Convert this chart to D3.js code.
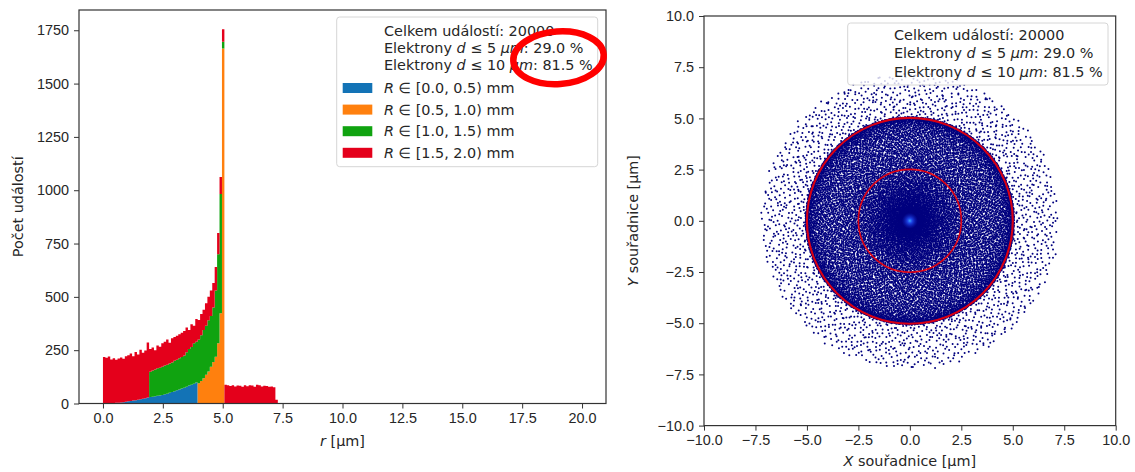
<!DOCTYPE html>
<html>
<head>
<meta charset="utf-8">
<script src="https://cdn.jsdelivr.net/npm/d3@7"></script>
<style>
  body { margin: 0; background: #fff; }
  svg { display: block; font-family: "DejaVu Sans", sans-serif; }
  .tick text { font-size: 14.4px; fill: #262626; }
  .tick line { stroke: #333; stroke-width: 1; }
</style>
</head>
<body>
<svg id="chart" width="1135" height="472"></svg>
<script>
// ---- Data -------------------------------------------------------------
const totalEvents = 20000;
const shareWithin5 = "29.0";
const shareWithin10 = "81.5";

// Source radius bands (mm) stacked in the histogram
const radiusBands = ["[0.0, 0.5)", "[0.5, 1.0)", "[1.0, 1.5)", "[1.5, 2.0)"];
const bandColors = ["#1373b6", "#ff800e", "#10a310", "#e4001b"];

// Radial histogram binning (µm)
const rBinRange = [0, 7.3];
const rBinCount = 72;

// Event counts per radial bin, one array per source band
const countsBand0 = [0,0,0,0,0, 3,4,5,6,8, 10,12,14,15,18, 20,22,25,28,30,
  32,34,36,38,40, 43,46,50,54,58, 62,66,70,74,78, 84,88,93,98,
  0,0,0,0,0,0,0,0,0,0,0, 0,0,0,0,0,0,0,0,0,0,0, 0,0,0,0,0,0,0,0,0,0,0];
const countsBand1 = [0,0,0,0,0,0,0,0,0,0, 0,0,0,0,0,0,0,0,0,0, 0,0,0,0,0,0,0,0,0,0,
  0,0,0,0,0,0,0,0,0,
  95,105,118,135,150,172,195,219,282,423,1665,
  0,0,0,0,0,0,0,0,0,0,0, 0,0,0,0,0,0,0,0,0,0,0];
const countsBand2 = [0,0,0,0,0,0,0,0,0,0, 0,0,0,0,0,0,0,0,0,
  119,123,126,129,130,132,135,136,138,138,142,143,146,148,151,162,171,177,189,192,
  205,215,227,230,240,238,255,311,418,559,31,
  0,0,0,0,0,0,0,0,0,0,0, 0,0,0,0,0,0,0,0,0,0,0];
const countsBand3 = [218,214,220,206,212,202,207,211,204,214,216,222,208,227,212,232,216,223,258,
  106,107,90,107,98,110,112,118,97,114,112,113,113,114,115,116,90,107,83,106,
  92,100,95,105,110,120,115,110,100,80,59,
  88,85,82,86,80,84,83,78,85,81,86,84,79,88,85,80,83,82,78,80,76,18];

// Tick values
const histXTicks = [0, 2.5, 5, 7.5, 10, 12.5, 15, 17.5, 20];
const histYTicks = [0, 250, 500, 750, 1000, 1250, 1500, 1750];
const mapTicks = [-10, -7.5, -5, -2.5, 0, 2.5, 5, 7.5, 10];

// Reference circles on the XY map (µm)
const guideRadii = [2.5, 5];

// ---- Setup ------------------------------------------------------------
const svg = d3.select("#chart");
const textColor = "#262626";
const fontSize = 14.4;

const binEdges = d3.range(rBinCount + 1).map(i =>
  rBinRange[0] + i * (rBinRange[1] - rBinRange[0]) / rBinCount);
const bins = d3.range(rBinCount).map(i => ({
  x0: binEdges[i], x1: binEdges[i + 1],
  b0: countsBand0[i], b1: countsBand1[i], b2: countsBand2[i], b3: countsBand3[i]
}));
const keys = ["b0", "b1", "b2", "b3"];
const stacked = d3.stack().keys(keys)(bins);

// ---- Left panel: stacked radial histogram ------------------------------
const L = { left: 79, right: 606, top: 10, bottom: 403.5 };
const xH = d3.scaleLinear().domain([-1, 21]).range([L.left, L.right]);
const yH = d3.scaleLinear().domain([0, 1845]).range([L.bottom, L.top]);

const gH = svg.append("g");
// each band is one filled step outline, so adjacent bins join without seams
const stepArea = d3.area()
  .curve(d3.curveStepAfter)
  .x(d => xH(d.x))
  .y0(d => yH(d.lo))
  .y1(d => yH(d.hi));
stacked.forEach((layer, li) => {
  const pts = layer.map(d => ({ x: d.data.x0, lo: d[0], hi: d[1] }));
  const last = layer[layer.length - 1];
  pts.push({ x: last.data.x1, lo: last[0], hi: last[1] });
  gH.append("path").datum(pts)
    .attr("fill", bandColors[li])
    .attr("d", stepArea);
});

gH.append("rect").attr("x", L.left).attr("y", L.top)
  .attr("width", L.right - L.left).attr("height", L.bottom - L.top)
  .attr("fill", "none").attr("stroke", "#333").attr("stroke-width", 1.2);

gH.append("g").attr("transform", `translate(0,${L.bottom})`)
  .call(d3.axisBottom(xH).tickValues(histXTicks).tickFormat(d3.format(".1f"))
    .tickSize(5).tickPadding(4))
  .call(g => g.select(".domain").remove());
gH.append("g").attr("transform", `translate(${L.left},0)`)
  .call(d3.axisLeft(yH).tickValues(histYTicks).tickFormat(d3.format("d"))
    .tickSize(5).tickPadding(5))
  .call(g => g.select(".domain").remove());

// axis titles
const xTitleL = gH.append("text").attr("x", (L.left + L.right) / 2).attr("y", 446)
  .attr("text-anchor", "middle").attr("font-size", fontSize).attr("fill", textColor);
xTitleL.append("tspan").attr("font-style", "italic").text("r");
xTitleL.append("tspan").text(" [µm]");
gH.append("text").attr("transform", `translate(23,${(L.top + L.bottom) / 2}) rotate(-90)`)
  .attr("text-anchor", "middle").attr("font-size", fontSize).attr("fill", textColor)
  .text("Počet událostí");

// legend text lines shared by both panels
function statLine(sel, x, y, limit, share) {
  const t = sel.append("text").attr("x", x).attr("y", y)
    .attr("font-size", fontSize).attr("fill", textColor);
  t.append("tspan").text("Elektrony ");
  t.append("tspan").attr("font-style", "italic").text("d");
  t.append("tspan").text(` ≤ ${limit} `);
  t.append("tspan").attr("font-style", "italic").text("µm");
  t.append("tspan").text(`: ${share} %`);
}
function countLine(sel, x, y) {
  sel.append("text").attr("x", x).attr("y", y)
    .attr("font-size", fontSize).attr("fill", textColor)
    .text(`Celkem událostí: ${totalEvents}`);
}

const legL = gH.append("g");
legL.append("rect").attr("x", 336.7).attr("y", 17).attr("width", 261).attr("height", 149.7)
  .attr("rx", 3).attr("fill", "#fff").attr("fill-opacity", 0.8)
  .attr("stroke", "#d6d6d6").attr("stroke-width", 1);
countLine(legL, 384, 36.2);
statLine(legL, 384, 53.2, 5, shareWithin5);
statLine(legL, 384, 70.2, 10, shareWithin10);
const rowY = [88, 109.6, 131.2, 152.8];
radiusBands.forEach((band, i) => {
  legL.append("rect").attr("x", 342.7).attr("y", rowY[i] - 5).attr("width", 29.6).attr("height", 10)
    .attr("fill", bandColors[i]);
  const t = legL.append("text").attr("x", 384).attr("y", rowY[i] + 5.2)
    .attr("font-size", fontSize).attr("fill", textColor);
  t.append("tspan").attr("font-style", "italic").text("R");
  t.append("tspan").text(` ∈ ${band} mm`);
});

// highlight ring around the percentages
gH.append("ellipse").attr("cx", 558.5).attr("cy", 57.8).attr("rx", 45.3).attr("ry", 26.3)
  .attr("transform", "rotate(-4 558.5 57.8)")
  .attr("fill", "none").attr("stroke", "#ff0000").attr("stroke-width", 6.5);

// ---- Right panel: XY map of the events --------------------------------
const R = { left: 704, right: 1115.7, top: 16, bottom: 425.6 };
const xM = d3.scaleLinear().domain([-10, 10]).range([R.left, R.right]);
const yM = d3.scaleLinear().domain([-10, 10]).range([R.bottom, R.top]);

// Events are laid out from the radial histogram: a leaped Halton pair
// (u, v) picks the radius through the histogram's cumulative counts and
// the azimuth, which the histogram does not record, from v.
function radicalInverse(n, base) {
  let f = 1, r = 0;
  while (n > 0) { f /= base; r += f * (n % base); n = Math.floor(n / base); }
  return r;
}
const haltonLeap = 409;
const binTotals = bins.map(b => b.b0 + b.b1 + b.b2 + b.b3);
const cumCounts = d3.cumsum(binTotals);
const nEvents = cumCounts[cumCounts.length - 1];
const events = d3.range(1, nEvents + 1).map(k => {
  const idx = k * haltonLeap;
  const u = radicalInverse(idx, 2) * nEvents;
  const i = Math.min(d3.bisectRight(cumCounts, u), rBinCount - 1);
  const before = i > 0 ? cumCounts[i - 1] : 0;
  const frac = Math.min(1, (u - before) / binTotals[i]);
  const rr = bins[i].x0 + (bins[i].x1 - bins[i].x0) * frac;
  const th = 2 * Math.PI * radicalInverse(idx, 3);
  return [rr * Math.cos(th), rr * Math.sin(th)];
});

const gM = svg.append("g");
gM.append("g").attr("fill", "#00007f")
  .selectAll("circle").data(events).join("circle")
  .attr("cx", d => xM(d[0])).attr("cy", d => yM(d[1])).attr("r", 1.0);

const defs = svg.append("defs");
const glow = defs.append("radialGradient").attr("id", "coreGlow");
glow.append("stop").attr("offset", "0%").attr("stop-color", "#39a0ff").attr("stop-opacity", 1);
glow.append("stop").attr("offset", "30%").attr("stop-color", "#1f4cf0").attr("stop-opacity", 0.9);
glow.append("stop").attr("offset", "100%").attr("stop-color", "#1020c0").attr("stop-opacity", 0);
gM.append("circle").attr("cx", xM(0)).attr("cy", yM(0)).attr("r", 8).attr("fill", "url(#coreGlow)");

gM.append("g").selectAll("circle").data(guideRadii).join("circle")
  .attr("cx", xM(0)).attr("cy", yM(0))
  .attr("r", d => xM(d) - xM(0))
  .attr("fill", "none").attr("stroke", "#ff0000").attr("stroke-opacity", 0.85)
  .attr("stroke-width", d => d === 5 ? 2.1 : 1.6);

const legR = gM.append("g");
legR.append("rect").attr("x", 847.7).attr("y", 23).attr("width", 260.3).attr("height", 62)
  .attr("rx", 3).attr("fill", "#fff").attr("fill-opacity", 0.8)
  .attr("stroke", "#d6d6d6").attr("stroke-width", 1);
countLine(legR, 894, 40.2);
statLine(legR, 894, 58.4, 5, shareWithin5);
statLine(legR, 894, 76.6, 10, shareWithin10);

gM.append("rect").attr("x", R.left).attr("y", R.top)
  .attr("width", R.right - R.left).attr("height", R.bottom - R.top)
  .attr("fill", "none").attr("stroke", "#333").attr("stroke-width", 1.2);

gM.append("g").attr("transform", `translate(0,${R.bottom})`)
  .call(d3.axisBottom(xM).tickValues(mapTicks).tickFormat(d3.format(".1f"))
    .tickSize(5).tickPadding(4))
  .call(g => g.select(".domain").remove());
gM.append("g").attr("transform", `translate(${R.left},0)`)
  .call(d3.axisLeft(yM).tickValues(mapTicks).tickFormat(d3.format(".1f"))
    .tickSize(5).tickPadding(5))
  .call(g => g.select(".domain").remove());

const xTitleR = gM.append("text").attr("x", (R.left + R.right) / 2).attr("y", 466)
  .attr("text-anchor", "middle").attr("font-size", fontSize).attr("fill", textColor);
xTitleR.append("tspan").attr("font-style", "italic").text("X");
xTitleR.append("tspan").text(" souřadnice [µm]");
const yTitleR = gM.append("text")
  .attr("transform", `translate(638,${(R.top + R.bottom) / 2}) rotate(-90)`)
  .attr("text-anchor", "middle").attr("font-size", fontSize).attr("fill", textColor);
yTitleR.append("tspan").attr("font-style", "italic").text("Y");
yTitleR.append("tspan").text(" souřadnice [µm]");
</script>
</body>
</html>
